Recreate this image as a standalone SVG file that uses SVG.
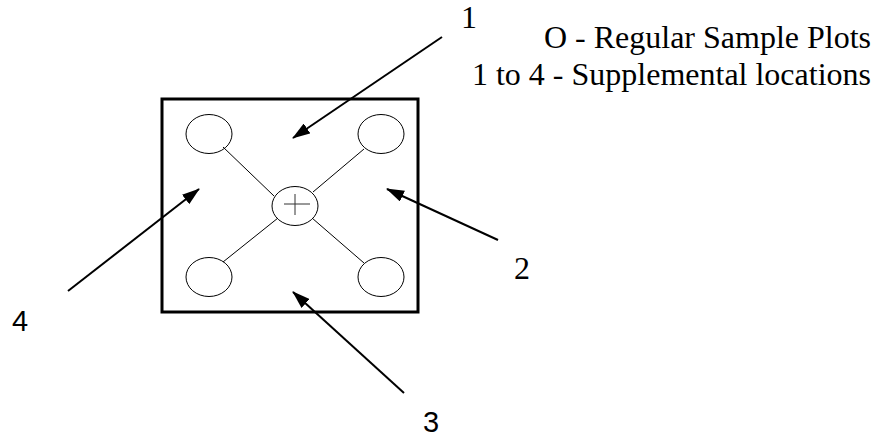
<svg xmlns="http://www.w3.org/2000/svg" width="874" height="437" viewBox="0 0 874 437">
<style>
.plot{fill:none;stroke:#000;stroke-width:1}
.thin{stroke:#000;stroke-width:1}
.arrow{stroke:#000;stroke-width:2;fill:none}
.serif{font-family:"Liberation Serif","Times New Roman",serif;font-size:32px;fill:#000}
.sans{font-family:"Liberation Sans",Arial,sans-serif;font-size:29px;fill:#000}
</style>
<defs>
<marker id="ah" viewBox="0 0 18 12" refX="17" refY="6" markerWidth="18" markerHeight="12" markerUnits="userSpaceOnUse" orient="auto">
<path d="M0,0 L18,6 L0,12 z" fill="#000"/>
</marker>
</defs>
<rect width="874" height="437" fill="#fff"/>
<g id="plot-area">
<rect x="162" y="99" width="256" height="213" fill="none" stroke="#000" stroke-width="3"/>
</g>
<g id="plot-tl"><ellipse class="plot" cx="209" cy="134" rx="23" ry="19.5"/></g>
<g id="plot-tr"><ellipse class="plot" cx="381" cy="134" rx="23" ry="19.5"/></g>
<g id="plot-bl"><ellipse class="plot" cx="209" cy="277" rx="23" ry="19.5"/></g>
<g id="plot-br"><ellipse class="plot" cx="381" cy="277" rx="23" ry="19.5"/></g>
<g id="plot-center">
<ellipse class="plot" cx="295" cy="206" rx="23" ry="19.5"/>
<line x1="284" y1="204" x2="310" y2="204" stroke="#333" stroke-width="1"/>
<line x1="295" y1="194" x2="295" y2="215" stroke="#333" stroke-width="1"/>
</g>
<g id="connectors">
<line class="thin" x1="223" y1="147" x2="274" y2="196"/>
<line class="thin" x1="364" y1="149" x2="313" y2="192"/>
<line class="thin" x1="223" y1="262" x2="278" y2="218"/>
<line class="thin" x1="312" y1="218" x2="364" y2="263"/>
<line class="arrow" x1="442" y1="37" x2="293" y2="138" marker-end="url(#ah)"/>
<line class="arrow" x1="498" y1="240" x2="387" y2="189" marker-end="url(#ah)"/>
<line class="arrow" x1="404" y1="393" x2="293" y2="292" marker-end="url(#ah)"/>
<line class="arrow" x1="68" y1="291" x2="199" y2="189" marker-end="url(#ah)"/>
</g>
<g id="labels">
<text class="serif" x="461" y="28">1</text>
<text class="serif" x="514" y="279">2</text>
<text class="sans" x="423" y="432">3</text>
<text class="sans" x="12" y="331">4</text>
</g>
<g id="legend">
<text class="serif" x="871" y="48" text-anchor="end">O - Regular Sample Plots</text>
<text class="serif" x="871" y="85" text-anchor="end">1 to 4 - Supplemental locations</text>
</g>
</svg>
